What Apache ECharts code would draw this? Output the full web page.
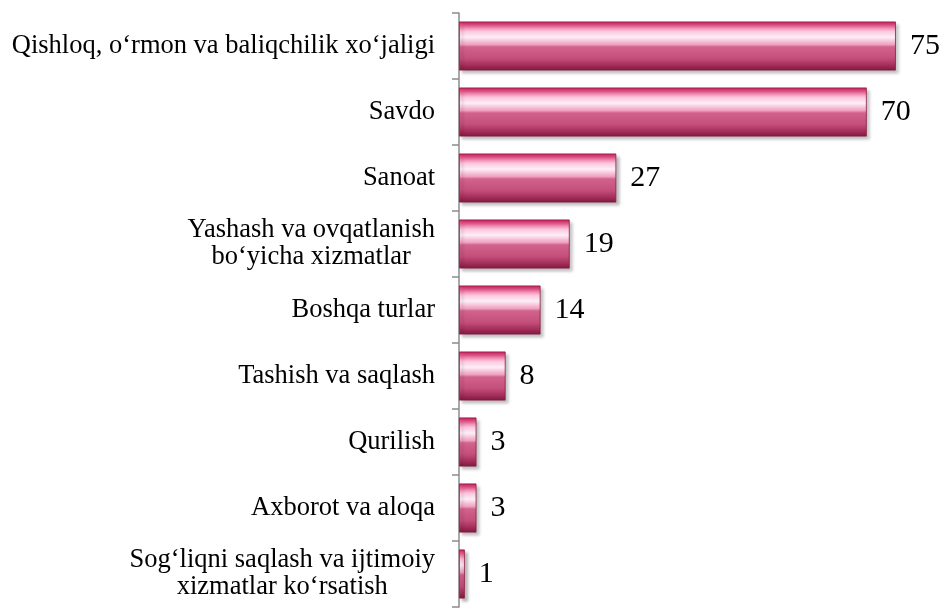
<!DOCTYPE html>
<html>
<head>
<meta charset="utf-8">
<script src="https://cdn.jsdelivr.net/npm/echarts@6/dist/echarts.min.js"></script>
<style>
  html, body { margin: 0; padding: 0; background: #fff; }
  #chart { width: 946px; height: 608px; }
</style>
</head>
<body>
<div id="chart"></div>
<script>
// categories, top to bottom
var categories = [
  'Qishloq, o‘rmon va baliqchilik xo‘jaligi',
  'Savdo',
  'Sanoat',
  'Yashash va ovqatlanish\nbo‘yicha xizmatlar',
  'Boshqa turlar',
  'Tashish va saqlash',
  'Qurilish',
  'Axborot va aloqa',
  'Sog‘liqni saqlash va ijtimoiy\nxizmatlar ko‘rsatish'
];
var values = [75, 70, 27, 19, 14, 8, 3, 3, 1];

var myChart = echarts.init(document.getElementById('chart'));

var barColor = new echarts.graphic.LinearGradient(0, 0, 0, 1, [
  { offset: 0, color: '#c41a52' },
  { offset: 0.07, color: '#e8548a' },
  { offset: 0.2, color: '#fbc6dc' },
  { offset: 0.32, color: '#fdeef6' },
  { offset: 0.47, color: '#f0a0c0' },
  { offset: 0.52, color: '#d2628c' },
  { offset: 0.75, color: '#c44f7a' },
  { offset: 0.9, color: '#a32c58' },
  { offset: 1, color: '#7a1a3e' }
]);

var option = {
  backgroundColor: '#fff',
  animation: false,
  grid: { left: 459, top: 13, right: 21, bottom: 1 },
  xAxis: {
    type: 'value',
    min: 0,
    max: 80,
    show: false
  },
  yAxis: {
    type: 'category',
    inverse: true,
    data: categories,
    axisLine: { show: true, lineStyle: { color: '#8c8c8c', width: 1.5 } },
    axisTick: { show: true, length: 7, lineStyle: { color: '#8c8c8c', width: 1.5 } },
    axisLabel: {
      margin: 24,
      color: '#000',
      fontFamily: 'Liberation Serif',
      fontSize: 26.5,
      lineHeight: 27,
      formatter: function (v) {
        return v.split('\n').map(function (s) { return '{c|' + s + '}'; }).join('\n');
      },
      rich: {
        c: { align: 'center', fontFamily: 'Liberation Serif', fontSize: 26.5, lineHeight: 27, color: '#000' }
      }
    },
    splitLine: { show: false }
  },
  series: [{
    type: 'bar',
    data: values,
    barWidth: 49,
    itemStyle: {
      color: barColor,
      borderColor: '#8e1c46',
      borderWidth: 0.8,
      shadowColor: 'rgba(0,0,0,0.28)',
      shadowBlur: 3,
      shadowOffsetX: 3,
      shadowOffsetY: 3
    },
    label: {
      show: true,
      position: 'right',
      distance: 14,
      color: '#000',
      fontFamily: 'Liberation Serif',
      fontSize: 30
    }
  }]
};

myChart.setOption(option);
</script>
</body>
</html>
